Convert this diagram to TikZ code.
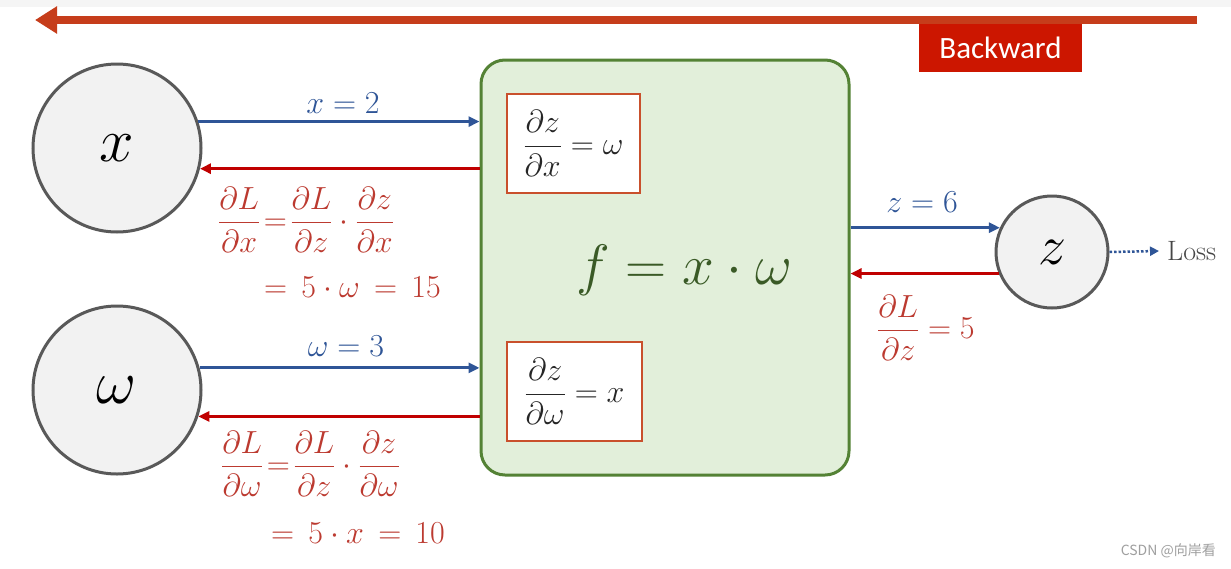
\RequirePackage{fix-cm}
\documentclass[tikz,border=0pt]{standalone}
\usepackage{amsmath}
\usepackage{fontspec}
\newfontfamily\bkfont{Carlito}
\newfontfamily\cjkfont{Noto Sans CJK SC}
\usetikzlibrary{arrows.meta,calc}
\definecolor{topred}{HTML}{C63D1B}
\definecolor{bkred}{HTML}{CC1600}
\definecolor{arrblue}{HTML}{2F5597}
\definecolor{arrred}{HTML}{C00000}
\definecolor{mathred}{HTML}{BC3A30}
\definecolor{boxgreen}{HTML}{E2EFDA}
\definecolor{boxedge}{HTML}{548235}
\definecolor{ftext}{HTML}{3A5A26}
\definecolor{inneredge}{HTML}{C9502C}
\definecolor{circfill}{HTML}{F2F2F2}
\definecolor{circedge}{HTML}{595959}
\definecolor{mathdark}{HTML}{262626}
\tikzset{
  varcircle/.style={circle, draw=circedge, fill=circfill, line width=3pt, inner sep=0pt},
  fwdarrow/.style={draw=arrblue, line width=3pt, -{Triangle[length=11pt,width=10pt]}},
  bwdarrow/.style={draw=arrred, line width=3pt, -{Triangle[length=11pt,width=10pt]}},
  bluelabel/.style={text=arrblue, font=\fontsize{32}{38}\selectfont, inner sep=0pt},
  redmath/.style={text=mathred, font=\fontsize{32}{38}\selectfont, inner sep=0pt, anchor=west},
  innerbox/.style={draw=inneredge, fill=white, line width=2.5pt, inner sep=0pt,
    text=mathdark, font=\fontsize{32}{38}\selectfont},
}
\begin{document}
\begin{tikzpicture}[x=1pt,y=-1pt]
\useasboundingbox (0,0) rectangle (1231,568);
\fill[white] (0,0) rectangle (1231,568);
\fill[gray!8] (0,0) rectangle (1231,7);
% top backward arrow
\coordinate (tbR) at (1197,20);
\coordinate (tbL) at (35,20);
\draw[topred, line width=8pt, -{Triangle[length=22pt,width=26pt]}] (tbR) -- (tbL);
\node[fill=bkred, text=white, minimum width=163pt, minimum height=48pt, inner sep=0pt,
  font=\bkfont\fontsize{31}{36}\selectfont] (bw) at (1000.5,48) {Backward};
% variable circles
\node[varcircle, minimum size=168pt, font=\fontsize{62}{70}\selectfont] (x) at (117,148) {$x$};
\node[varcircle, minimum size=168pt, font=\fontsize{62}{70}\selectfont] (w) at (117,390) {$\omega$};
\node[varcircle, minimum size=112pt, font=\fontsize{56}{64}\selectfont] (z) at (1052,252) {$z$};
% function box
\node[draw=boxedge, fill=boxgreen, line width=3pt, rounded corners=24pt,
  minimum width=368pt, minimum height=415pt, inner sep=0pt] (f) at (665,267.5) {};
\node[text=ftext, font=\fontsize{57}{66}\selectfont] (ftxt) at (684,270) {$f = x\cdot\omega$};
\node[innerbox, minimum width=133pt, minimum height=99pt] (dzx) at (573.5,143.5)
  {$\displaystyle\frac{\partial z}{\partial x} = \omega$};
\node[innerbox, minimum width=135pt, minimum height=99pt] (dzw) at (574.5,391.5)
  {$\displaystyle\frac{\partial z}{\partial \omega} = x$};
% forward / backward arrows for x
\draw[fwdarrow] (x.18) -- (x.18 -| f.west);
\draw[bwdarrow] (x.-14 -| f.west) -- (x.-14);
\node[bluelabel] (lx) at (343,103) {$x = 2$};
\node[redmath] (gx1) at (218,220)
  {$\displaystyle\frac{\partial L}{\partial x}\!=\!\frac{\partial L}{\partial z}\cdot\frac{\partial z}{\partial x}$};
\node[redmath] (gx2) at (264,287) {$=\,5\cdot\omega\,=\,15$};
% forward / backward arrows for omega
\draw[fwdarrow] (w.15) -- (w.15 -| f.west);
\draw[bwdarrow] (w.-18 -| f.west) -- (w.-18);
\node[bluelabel] (lw) at (346,346) {$\omega = 3$};
\node[redmath] (gw1) at (221,464)
  {$\displaystyle\frac{\partial L}{\partial \omega}\!=\!\frac{\partial L}{\partial z}\cdot\frac{\partial z}{\partial \omega}$};
\node[redmath] (gw2) at (271,533) {$=\,5\cdot x\,=\,10$};
% z arrows
\draw[fwdarrow] (z.155 -| f.east) -- (z.155);
\draw[bwdarrow] (z.202) -- (z.202 -| f.east);
\node[bluelabel] (lz) at (922,202) {$z = 6$};
\node[redmath] (gz) at (877,328) {$\displaystyle\frac{\partial L}{\partial z} = 5$};
% loss
\node[anchor=west, text=mathdark!85, font=\fontsize{28}{33}\selectfont, inner sep=0pt] (loss) at (1167,251) {Loss};
\draw[arrblue, line width=2.5pt, dotted, -{Triangle[length=9pt,width=9pt]}] (z.east) -- ([xshift=-8pt]loss.west);
% watermark
\node[anchor=east, text=gray!75, font=\cjkfont\fontsize{14}{17}\selectfont, inner sep=0pt] (wm) at (1216,551) {CSDN @向岸看};
\end{tikzpicture}
\end{document}
